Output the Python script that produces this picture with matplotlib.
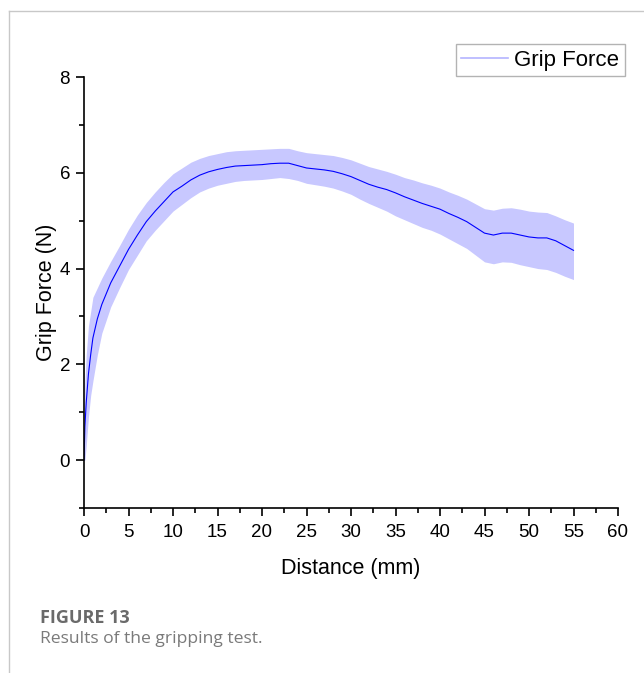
import matplotlib
matplotlib.use("Agg")
import matplotlib.pyplot as plt
from matplotlib.lines import Line2D

# ---- data ----
distance = [0, 0.1, 0.25, 0.5, 0.75, 1, 1.5, 2, 3, 4, 5, 6, 7, 8, 9, 10, 11, 12, 13, 14,
            15, 16, 17, 18, 19, 20, 21, 22, 23, 24, 25, 26, 27, 28, 29, 30, 31, 32, 33, 34,
            35, 36, 37, 38, 39, 40, 41, 42, 43, 44, 45, 46, 47, 48, 49, 50, 51, 52, 53, 54, 55]
force_mean = [0.0, 0.7, 1.2, 1.8, 2.2, 2.55, 2.95, 3.25, 3.7, 4.05, 4.4, 4.7, 4.98, 5.2, 5.4,
              5.6, 5.72, 5.85, 5.95, 6.02, 6.07, 6.11, 6.14, 6.15, 6.16, 6.17, 6.19, 6.2, 6.2,
              6.15, 6.1, 6.08, 6.06, 6.03, 5.98, 5.92, 5.84, 5.76, 5.7, 5.65, 5.58, 5.5, 5.43,
              5.36, 5.3, 5.24, 5.15, 5.07, 4.98, 4.86, 4.74, 4.7, 4.74, 4.74, 4.7, 4.66, 4.64,
              4.64, 4.58, 4.48, 4.38]
force_upper = [0.3, 1.6, 2.2, 2.8, 3.1, 3.4, 3.6, 3.8, 4.15, 4.48, 4.82, 5.12, 5.38, 5.6, 5.8,
               5.98, 6.1, 6.22, 6.3, 6.36, 6.4, 6.44, 6.46, 6.47, 6.48, 6.49, 6.5, 6.51, 6.51,
               6.46, 6.42, 6.4, 6.38, 6.36, 6.32, 6.27, 6.2, 6.13, 6.08, 6.03, 5.97, 5.9, 5.85,
               5.79, 5.74, 5.68, 5.6, 5.53, 5.45, 5.35, 5.25, 5.22, 5.26, 5.27, 5.24, 5.2, 5.18,
               5.17, 5.1, 5.02, 4.95]
force_lower = [0.0, 0.0, 0.3, 0.9, 1.35, 1.65, 2.2, 2.65, 3.2, 3.6, 3.98, 4.28, 4.58, 4.8, 5.0,
               5.2, 5.34, 5.48, 5.6, 5.68, 5.74, 5.78, 5.82, 5.84, 5.85, 5.86, 5.88, 5.9, 5.88,
               5.84, 5.78, 5.75, 5.72, 5.68, 5.62, 5.55, 5.45, 5.36, 5.28, 5.2, 5.1, 5.02, 4.94,
               4.86, 4.8, 4.72, 4.62, 4.52, 4.42, 4.28, 4.14, 4.1, 4.14, 4.13, 4.08, 4.04, 4.0,
               3.98, 3.92, 3.84, 3.77]
x_ticks = [0, 5, 10, 15, 20, 25, 30, 35, 40, 45, 50, 55, 60]
y_ticks = [0, 2, 4, 6, 8]

plt.rcParams['font.family'] = ['Liberation Sans', 'DejaVu Sans']

fig = plt.figure(figsize=(6.44, 6.73), dpi=100)

# card border (top and left)
fig.add_artist(Line2D([9/644, 1.0], [1 - 11/673, 1 - 11/673], color='#c8c8c8', lw=1.0))
fig.add_artist(Line2D([9/644, 9/644], [0.0, 1 - 11/673], color='#c8c8c8', lw=1.0))

ax = fig.add_axes([84/644, 1 - 508/673, 534/644, 431/673])

ax.fill_between(distance, force_lower, force_upper, color='#c8c8ff', lw=0, zorder=1)
ax.plot(distance, force_mean, color='#0000ff', lw=0.8, zorder=2)

ax.set_xlim(0, 60)
ax.set_ylim(-1, 8)
ax.set_xticks(x_ticks)
ax.set_yticks(y_ticks)
ax.set_xticks([v + 2.5 for v in x_ticks[:-1]], minor=True)
ax.set_yticks([-1, 1, 3, 5, 7], minor=True)

for s in ['top', 'right']:
    ax.spines[s].set_visible(False)
for s in ['left', 'bottom']:
    ax.spines[s].set_linewidth(1.2)

ax.tick_params(which='major', direction='out', length=6, width=1.2, labelsize=13.5)
ax.tick_params(axis='x', which='major', pad=5.5)
ax.tick_params(axis='y', which='major', pad=4)
ax.tick_params(which='minor', direction='out', length=3.5, width=1.2)

ax.set_xlabel('Distance (mm)', fontsize=15.5, labelpad=12)
ax.set_ylabel('Grip Force (N)', fontsize=15.5, labelpad=2)

handle = Line2D([], [], color='#b4b4ff', lw=1.2)
leg = fig.legend([handle], ['Grip Force'], loc='upper right',
                 bbox_to_anchor=(625/644, 1 - 44/673), fontsize=16,
                 fancybox=False, frameon=True, edgecolor='#a0a0a0',
                 handlelength=2.1, handletextpad=0.3, borderpad=0.25,
                 borderaxespad=0)
leg.get_frame().set_linewidth(1.0)

fig.text(40/644, 1 - 623/673, 'FIGURE 13', fontsize=13, fontweight='bold',
         color='#6a6a6a', family=['Open Sans', 'DejaVu Sans'], va='baseline')
fig.text(40/644, 1 - 643/673, 'Results of the gripping test.', fontsize=12.6,
         color='#7a7a7a', family=['Open Sans', 'DejaVu Sans'], va='baseline')

fig.savefig('out.png', dpi=100)
